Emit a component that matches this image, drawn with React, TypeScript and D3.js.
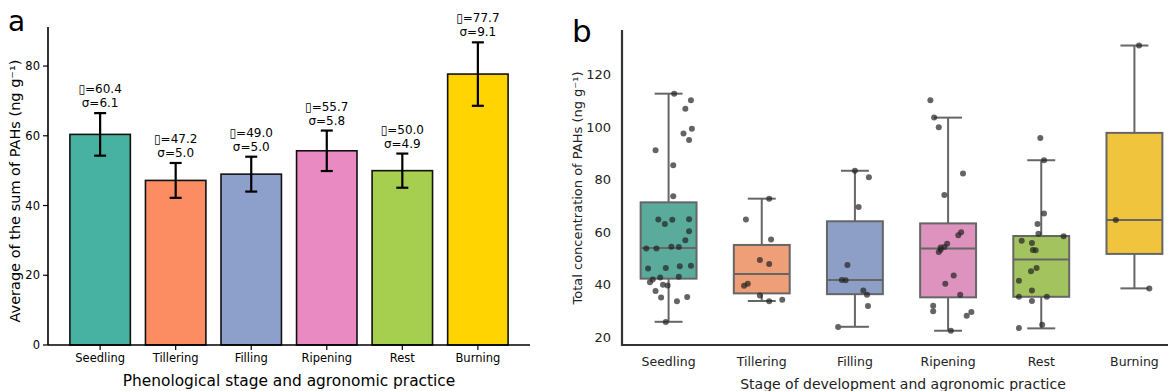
import React, { useEffect } from 'react';
import * as d3 from 'd3';

// categories shared by both panels
const stages = ['Seedling', 'Tillering', 'Filling', 'Ripening', 'Rest', 'Burning'];

// panel a: mean and sd
const means = [60.4, 47.2, 49.0, 55.7, 50.0, 77.7];
const sds = [6.1, 5.0, 5.0, 5.8, 4.9, 9.1];
const barColors = ['#47b2a1', '#fc8d62', '#8da0cb', '#e98bc2', '#a6cf4f', '#ffd400'];
const yTicksA = [0, 20, 40, 60, 80];

// panel b: box stats [whisker low, q1, median, q3, whisker high]
const boxStats = [
  [25.8, 42.2, 53.8, 71.2, 112.5],
  [33.7, 36.6, 44.0, 55.0, 72.6],
  [23.9, 36.3, 41.7, 64.0, 83.2],
  [22.4, 35.1, 53.7, 63.2, 103.4],
  [23.3, 35.3, 49.5, 58.4, 87.2],
  [38.5, 51.6, 64.5, 97.6, 130.8],
];
const boxColors = ['#5aab9b', '#ef9f78', '#8d9fc6', '#dd93bd', '#a3c35e', '#f0c43c'];
const yTicksB = [20, 40, 60, 80, 100, 120];

// strip points: [jitter (category units), value]
const seedlingPts = [
  [0.06, 112.5], [0.24, 110.0], [0.18, 106.8], [0.25, 99.2], [0.16, 97.4], [0.22, 94.9],
  [-0.14, 91.0], [0.05, 85.3], [0.05, 73.5], [-0.11, 64.7], [-0.04, 63.0], [0.04, 64.6],
  [0.22, 64.8], [0.22, 60.2], [0.18, 56.8], [-0.24, 53.7], [-0.13, 53.7], [0.03, 54.3],
  [0.11, 54.2], [-0.22, 46.1], [-0.03, 46.2], [0.12, 46.9], [0.24, 47.1], [0.11, 42.9],
  [-0.09, 42.6], [-0.17, 41.9], [-0.2, 40.8], [-0.06, 39.9], [-0.01, 39.6], [-0.14, 37.5],
  [-0.08, 35.0], [0.09, 33.6], [0.2, 35.2], [-0.03, 25.7],
];
const tilleringPts = [
  [0.08, 72.6], [-0.17, 64.7], [0.1, 57.1], [-0.02, 49.3], [0.08, 47.8],
  [-0.15, 40.3], [-0.19, 39.5], [-0.02, 35.8], [0.08, 33.6], [0.22, 34.2],
];
const fillingPts = [
  [0.0, 83.2], [0.15, 80.7], [0.04, 69.4], [-0.08, 47.4], [-0.14, 41.7],
  [-0.1, 41.6], [0.09, 37.7], [0.13, 36.1], [0.14, 31.8], [-0.18, 23.8],
];
const ripeningPts = [
  [-0.19, 110.0], [-0.15, 103.4], [-0.1, 99.7], [0.16, 82.2], [-0.04, 74.0],
  [0.14, 59.8], [0.11, 58.7], [-0.01, 55.5], [-0.04, 54.2], [-0.08, 54.0],
  [-0.08, 53.2], [-0.1, 52.3], [0.06, 43.4], [-0.03, 40.3], [0.13, 36.1],
  [-0.16, 31.9], [-0.16, 29.8], [0.25, 29.5], [0.2, 28.1], [0.03, 22.4],
];
const restPts = [
  [-0.01, 95.7], [0.03, 87.2], [0.03, 67.0], [-0.04, 63.0], [-0.03, 59.3],
  [0.24, 58.3], [-0.21, 56.6], [-0.1, 55.7], [-0.09, 53.1], [-0.06, 53.0],
  [-0.05, 46.2], [-0.11, 45.0], [-0.24, 41.4], [-0.1, 37.7], [-0.24, 35.3],
  [0.06, 35.3], [-0.1, 33.7], [0.01, 24.7], [-0.24, 23.4],
];
const burningPts = [[0.05, 130.8], [-0.2, 64.5], [0.16, 38.5]];
const points = [seedlingPts, tilleringPts, fillingPts, ripeningPts, restPts, burningPts];

const font = 'DejaVu Sans, sans-serif';

const PanelA = () => {
  const x = d3.scaleLinear().domain([-0.69, 5.69]).range([48, 530]);
  const y = d3.scaleLinear().domain([0, 91.2]).range([345, 27]);
  const bw = x(0.8) - x(0);
  return (
    <g fontFamily={font}>
      <text x={8} y={31} fontSize={28}>a</text>
      {stages.map((s, i) => {
        const top = y(means[i] + sds[i]);
        const bot = y(means[i] - sds[i]);
        return (
          <g key={s}>
            <rect x={x(i) - bw / 2} y={y(means[i])} width={bw} height={y(0) - y(means[i])}
              fill={barColors[i]} stroke="#111" strokeWidth={1.6} />
            <line x1={x(i)} x2={x(i)} y1={bot} y2={top} stroke="#000" strokeWidth={2.2} />
            <line x1={x(i) - 6} x2={x(i) + 6} y1={top} y2={top} stroke="#000" strokeWidth={2.2} />
            <line x1={x(i) - 6} x2={x(i) + 6} y1={bot} y2={bot} stroke="#000" strokeWidth={2.2} />
            <text x={x(i)} y={top - 20} fontSize={12} textAnchor="middle">{'\u25AF=' + means[i].toFixed(1)}</text>
            <text x={x(i)} y={top - 6} fontSize={12} textAnchor="middle">{'σ=' + sds[i].toFixed(1)}</text>
            <line x1={x(i)} x2={x(i)} y1={345} y2={350} stroke="#000" strokeWidth={1.2} />
            <text x={x(i)} y={362} fontSize={11.5} textAnchor="middle">{s}</text>
          </g>
        );
      })}
      <line x1={48} x2={48} y1={27} y2={345} stroke="#000" strokeWidth={1.6} />
      <line x1={48} x2={530} y1={345} y2={345} stroke="#000" strokeWidth={1.6} />
      {yTicksA.map(t => (
        <g key={t}>
          <line x1={43} x2={48} y1={y(t)} y2={y(t)} stroke="#000" strokeWidth={1.2} />
          <text x={40} y={y(t) + 4} fontSize={11.5} textAnchor="end">{t}</text>
        </g>
      ))}
      <text x={289} y={386} fontSize={15.4} textAnchor="middle">Phenological stage and agronomic practice</text>
      <text transform={`translate(20, 191) rotate(-90)`} fontSize={14.5} textAnchor="middle">
        Average of the sum of PAHs (ng g⁻¹)
      </text>
    </g>
  );
};

const PanelB = () => {
  const x = d3.scaleLinear().domain([-0.5, 5.5]).range([622, 1181]);
  const y = d3.scaleLinear().domain([16.6, 136.7]).range([346, 30]);
  const bw = x(0.6) - x(0);
  const cw = x(0.3) - x(0);
  const edge = '#666';
  return (
    <g fontFamily={font}>
      <text x={572} y={42} fontSize={31}>b</text>
      {stages.map((s, i) => {
        const [lo, q1, med, q3, hi] = boxStats[i];
        const cx = x(i);
        return (
          <g key={s}>
            <line x1={cx} x2={cx} y1={y(q3)} y2={y(hi)} stroke={edge} strokeWidth={2} />
            <line x1={cx} x2={cx} y1={y(q1)} y2={y(lo)} stroke={edge} strokeWidth={2} />
            <line x1={cx - cw / 2} x2={cx + cw / 2} y1={y(hi)} y2={y(hi)} stroke={edge} strokeWidth={2} />
            <line x1={cx - cw / 2} x2={cx + cw / 2} y1={y(lo)} y2={y(lo)} stroke={edge} strokeWidth={2} />
            <rect x={cx - bw / 2} y={y(q3)} width={bw} height={y(q1) - y(q3)}
              fill={boxColors[i]} stroke={edge} strokeWidth={2} />
            <line x1={cx - bw / 2} x2={cx + bw / 2} y1={y(med)} y2={y(med)} stroke={edge} strokeWidth={2} />
            {points[i].map(([j, v], k) => (
              <circle key={k} cx={x(i + j)} cy={y(v)} r={3} fill="#222" fillOpacity={0.7} />
            ))}
            <text x={cx} y={366} fontSize={12.5} textAnchor="middle" fill="#222">{s}</text>
          </g>
        );
      })}
      <line x1={622} x2={622} y1={30} y2={346} stroke="#333" strokeWidth={2.2} />
      <line x1={622} x2={1181} y1={345} y2={345} stroke="#333" strokeWidth={2.2} />
      {yTicksB.map(t => (
        <text key={t} x={611} y={y(t) + 5} fontSize={13} textAnchor="end" fill="#222">{t}</text>
      ))}
      <text x={903} y={389} fontSize={14} textAnchor="middle" fill="#222">Stage of development and agronomic practice</text>
      <text transform={`translate(582, ${(30 + 346) / 2}) rotate(-90)`} fontSize={13} textAnchor="middle" fill="#222">
        Total concentration of PAHs (ng g⁻¹)
      </text>
    </g>
  );
};

export default function App() {
  useEffect(() => {
    document.body.style.margin = '0';
  }, []);
  return (
    <svg width={1168} height={391} style={{ display: 'block', background: '#fff' }}>
      <PanelA />
      <PanelB />
    </svg>
  );
}
